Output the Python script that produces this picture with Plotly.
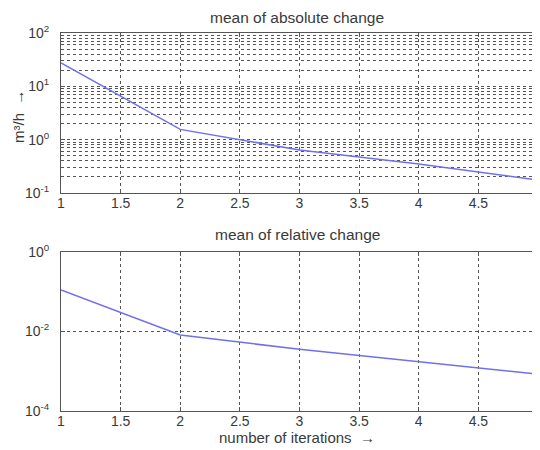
import plotly.graph_objects as go

iterations = [1, 2, 3, 4, 5]
abs_change = [27.5, 1.56, 0.64, 0.35, 0.175]
rel_change = [0.109, 0.0080, 0.0035, 0.0017, 0.00083]

x_ticks = [1, 1.5, 2, 2.5, 3, 3.5, 4, 4.5, 5]
x_ticktext = ["1", "1.5", "2", "2.5", "3", "3.5", "4", "4.5", "5"]
top_yticks = [0.1, 1, 10, 100]
top_yticktext = ["10<sup>-1</sup>", "10<sup>0</sup>", "10<sup>1</sup>", "10<sup>2</sup>"]
bot_yticks = [0.0001, 0.01, 1]
bot_yticktext = ["10<sup>-4</sup>", "10<sup>-2</sup>", "10<sup>0</sup>"]

# The page body has an 8px margin, so the figure is sized to fit the 540x450 window
W, H = 532, 442
OFF = 8  # body margin offset in page pixels


def px(x):
    return (x - OFF) / W


def py(y):
    return 1 - (y - OFF) / H


line_color = "#7070ee"
grid_color = "#555555"
family = "Liberation Sans, Arial, sans-serif"
tick_font = dict(family=family, size=14, color="#3a3a3a")
title_font = dict(family=family, size=15.5, color="#3a3a3a")
label_font = dict(family=family, size=15, color="#3a3a3a")

fig = go.Figure()
fig.add_trace(go.Scatter(x=iterations, y=abs_change, mode="lines",
                         line=dict(color=line_color, width=1.5),
                         xaxis="x", yaxis="y", showlegend=False))
fig.add_trace(go.Scatter(x=iterations, y=rel_change, mode="lines",
                         line=dict(color=line_color, width=1.5),
                         xaxis="x2", yaxis="y2", showlegend=False))

xcommon = dict(range=[1, 5], tickvals=x_ticks, ticktext=x_ticktext,
               showgrid=True, gridcolor=grid_color, griddash="dot", gridwidth=1,
               showline=True, linecolor="#555555", linewidth=1, mirror="ticks",
               ticks="inside", ticklen=4, tickcolor="#555555", automargin=False,
               zeroline=False, tickfont=tick_font, ticklabelstandoff=-3,
               ticklabeloverflow="allow",
               domain=[px(61), px(538)])

ycommon = dict(type="log", showgrid=True, gridcolor=grid_color, griddash="dot", gridwidth=1,
               showline=True, linecolor="#555555", linewidth=1, mirror="ticks",
               ticks="inside", ticklen=4, tickcolor="#555555", automargin=False,
               zeroline=False, tickfont=tick_font, ticklabelstandoff=8)

fig.update_layout(
    width=W, height=H,
    margin=dict(l=0, r=0, t=0, b=0),
    paper_bgcolor="white", plot_bgcolor="white",
    xaxis=dict(**xcommon, anchor="y"),
    yaxis=dict(**ycommon, range=[-1, 2], domain=[py(193), py(33)],
               tickvals=top_yticks, ticktext=top_yticktext,
               minor=dict(dtick="D1", showgrid=True, gridcolor=grid_color,
                          griddash="dot", ticks="inside", ticklen=2, tickcolor="#555555"),
               anchor="x"),
    xaxis2=dict(**xcommon, anchor="y2"),
    yaxis2=dict(**ycommon, range=[-4, 0], domain=[py(410.7), py(251.7)],
                tickvals=bot_yticks, ticktext=bot_yticktext, anchor="x2"),
    annotations=[
        dict(text="mean of absolute change", x=px(297), y=py(17),
             xref="paper", yref="paper", showarrow=False, font=title_font,
             xanchor="center", yanchor="middle"),
        dict(text="mean of relative change", x=px(297), y=py(235),
             xref="paper", yref="paper", showarrow=False, font=title_font,
             xanchor="center", yanchor="middle"),
        dict(text="number of iterations  →", x=px(297), y=py(437),
             xref="paper", yref="paper", showarrow=False, font=label_font,
             xanchor="center", yanchor="middle"),
        dict(text="m³/h  →", x=px(18), y=py(117), textangle=-90,
             xref="paper", yref="paper", showarrow=False, font=label_font,
             xanchor="center", yanchor="middle"),
    ],
)

fig.write_html("out.html")
